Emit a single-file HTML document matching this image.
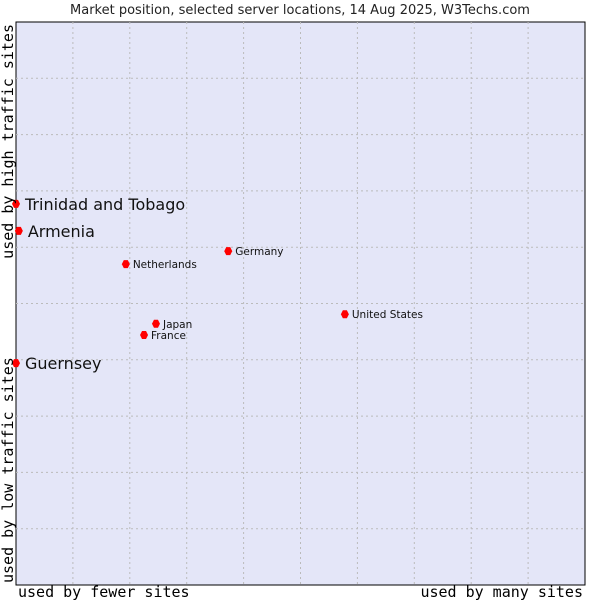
<!DOCTYPE html>
<html><head><meta charset="utf-8"><style>
body{margin:0;background:#fff;}
svg{display:block;}
</style></head><body>
<svg id="chart" width="600" height="600" xmlns="http://www.w3.org/2000/svg">
<text x="300" y="14" text-anchor="middle" font-family="DejaVu Sans, Liberation Sans, sans-serif" font-size="13" fill="#222">Market position, selected server locations, 14 Aug 2025, W3Techs.com</text>
<rect x="16" y="22" width="569" height="563" fill="#e4e6f8" stroke="#000" stroke-width="1"/>
<g id="grid"></g>
<g id="points"></g>
<text x="18" y="597" font-family="DejaVu Sans Mono, Liberation Mono, monospace" font-size="15" fill="#000">used by fewer sites</text>
<text x="583" y="597" text-anchor="end" font-family="DejaVu Sans Mono, Liberation Mono, monospace" font-size="15" fill="#000">used by many sites</text>
<text transform="translate(13,583) rotate(-90)" font-family="DejaVu Sans Mono, Liberation Mono, monospace" font-size="15" fill="#000">used by low traffic sites</text>
<text transform="translate(13,24) rotate(-90)" text-anchor="end" font-family="DejaVu Sans Mono, Liberation Mono, monospace" font-size="15" fill="#000">used by high traffic sites</text>
</svg>
<script>
const countries = ["Trinidad and Tobago","Armenia","Netherlands","Germany","United States","Japan","France","Guernsey"];
const xValues = [0, 0.5, 19.3, 37.3, 57.8, 24.6, 22.5, 0];
const yValues = [67.7, 62.9, 57.0, 59.3, 48.1, 46.4, 44.4, 39.4];
const bigLabel = [true, true, false, false, false, false, false, true];
const gridTicks = [10,20,30,40,50,60,70,80,90];

const L=16,R=585,T=22,B=585;
const xs = v => L + v/100*(R-L);
const ys = v => B - v/100*(B-T);
const NS="http://www.w3.org/2000/svg";
const grid=document.getElementById('grid');
gridTicks.forEach(t=>{
  const v=document.createElementNS(NS,'line');
  
  
  v.setAttribute('x1',xs(t));v.setAttribute('x2',xs(t));v.setAttribute('y1',T);v.setAttribute('y2',B);
  v.setAttribute('stroke','#bbb');v.setAttribute('stroke-dasharray','2,3');
  grid.appendChild(v);
  const h=document.createElementNS(NS,'line');
  
  
  h.setAttribute('x1',L);h.setAttribute('x2',R);h.setAttribute('y1',ys(t));h.setAttribute('y2',ys(t));
  h.setAttribute('stroke','#bbb');h.setAttribute('stroke-dasharray','2,3');
  grid.appendChild(h);
});
const pts=document.getElementById('points');
countries.forEach((c,i)=>{
  const x=xs(xValues[i]), y=ys(yValues[i]);
  const p=document.createElementNS(NS,'path');
  
  
  p.setAttribute('d',`M${x-4},${y} L${x-2},${y-4} L${x+2},${y-4} L${x+4},${y} L${x+2},${y+4} L${x-2},${y+4}Z`);
  p.setAttribute('fill','#f00');
  pts.appendChild(p);
  const t=document.createElementNS(NS,'text');
  
  
  const big=bigLabel[i];
  t.setAttribute('x',x+(big?9:7));
  t.setAttribute('y',y+(big?6:4));
  t.setAttribute('font-family','DejaVu Sans, Liberation Sans, sans-serif');
  t.setAttribute('font-size',big?16:10.5);
  t.setAttribute('fill','#111');
  t.textContent=c;
  pts.appendChild(t);
});
</script>
</body></html>
